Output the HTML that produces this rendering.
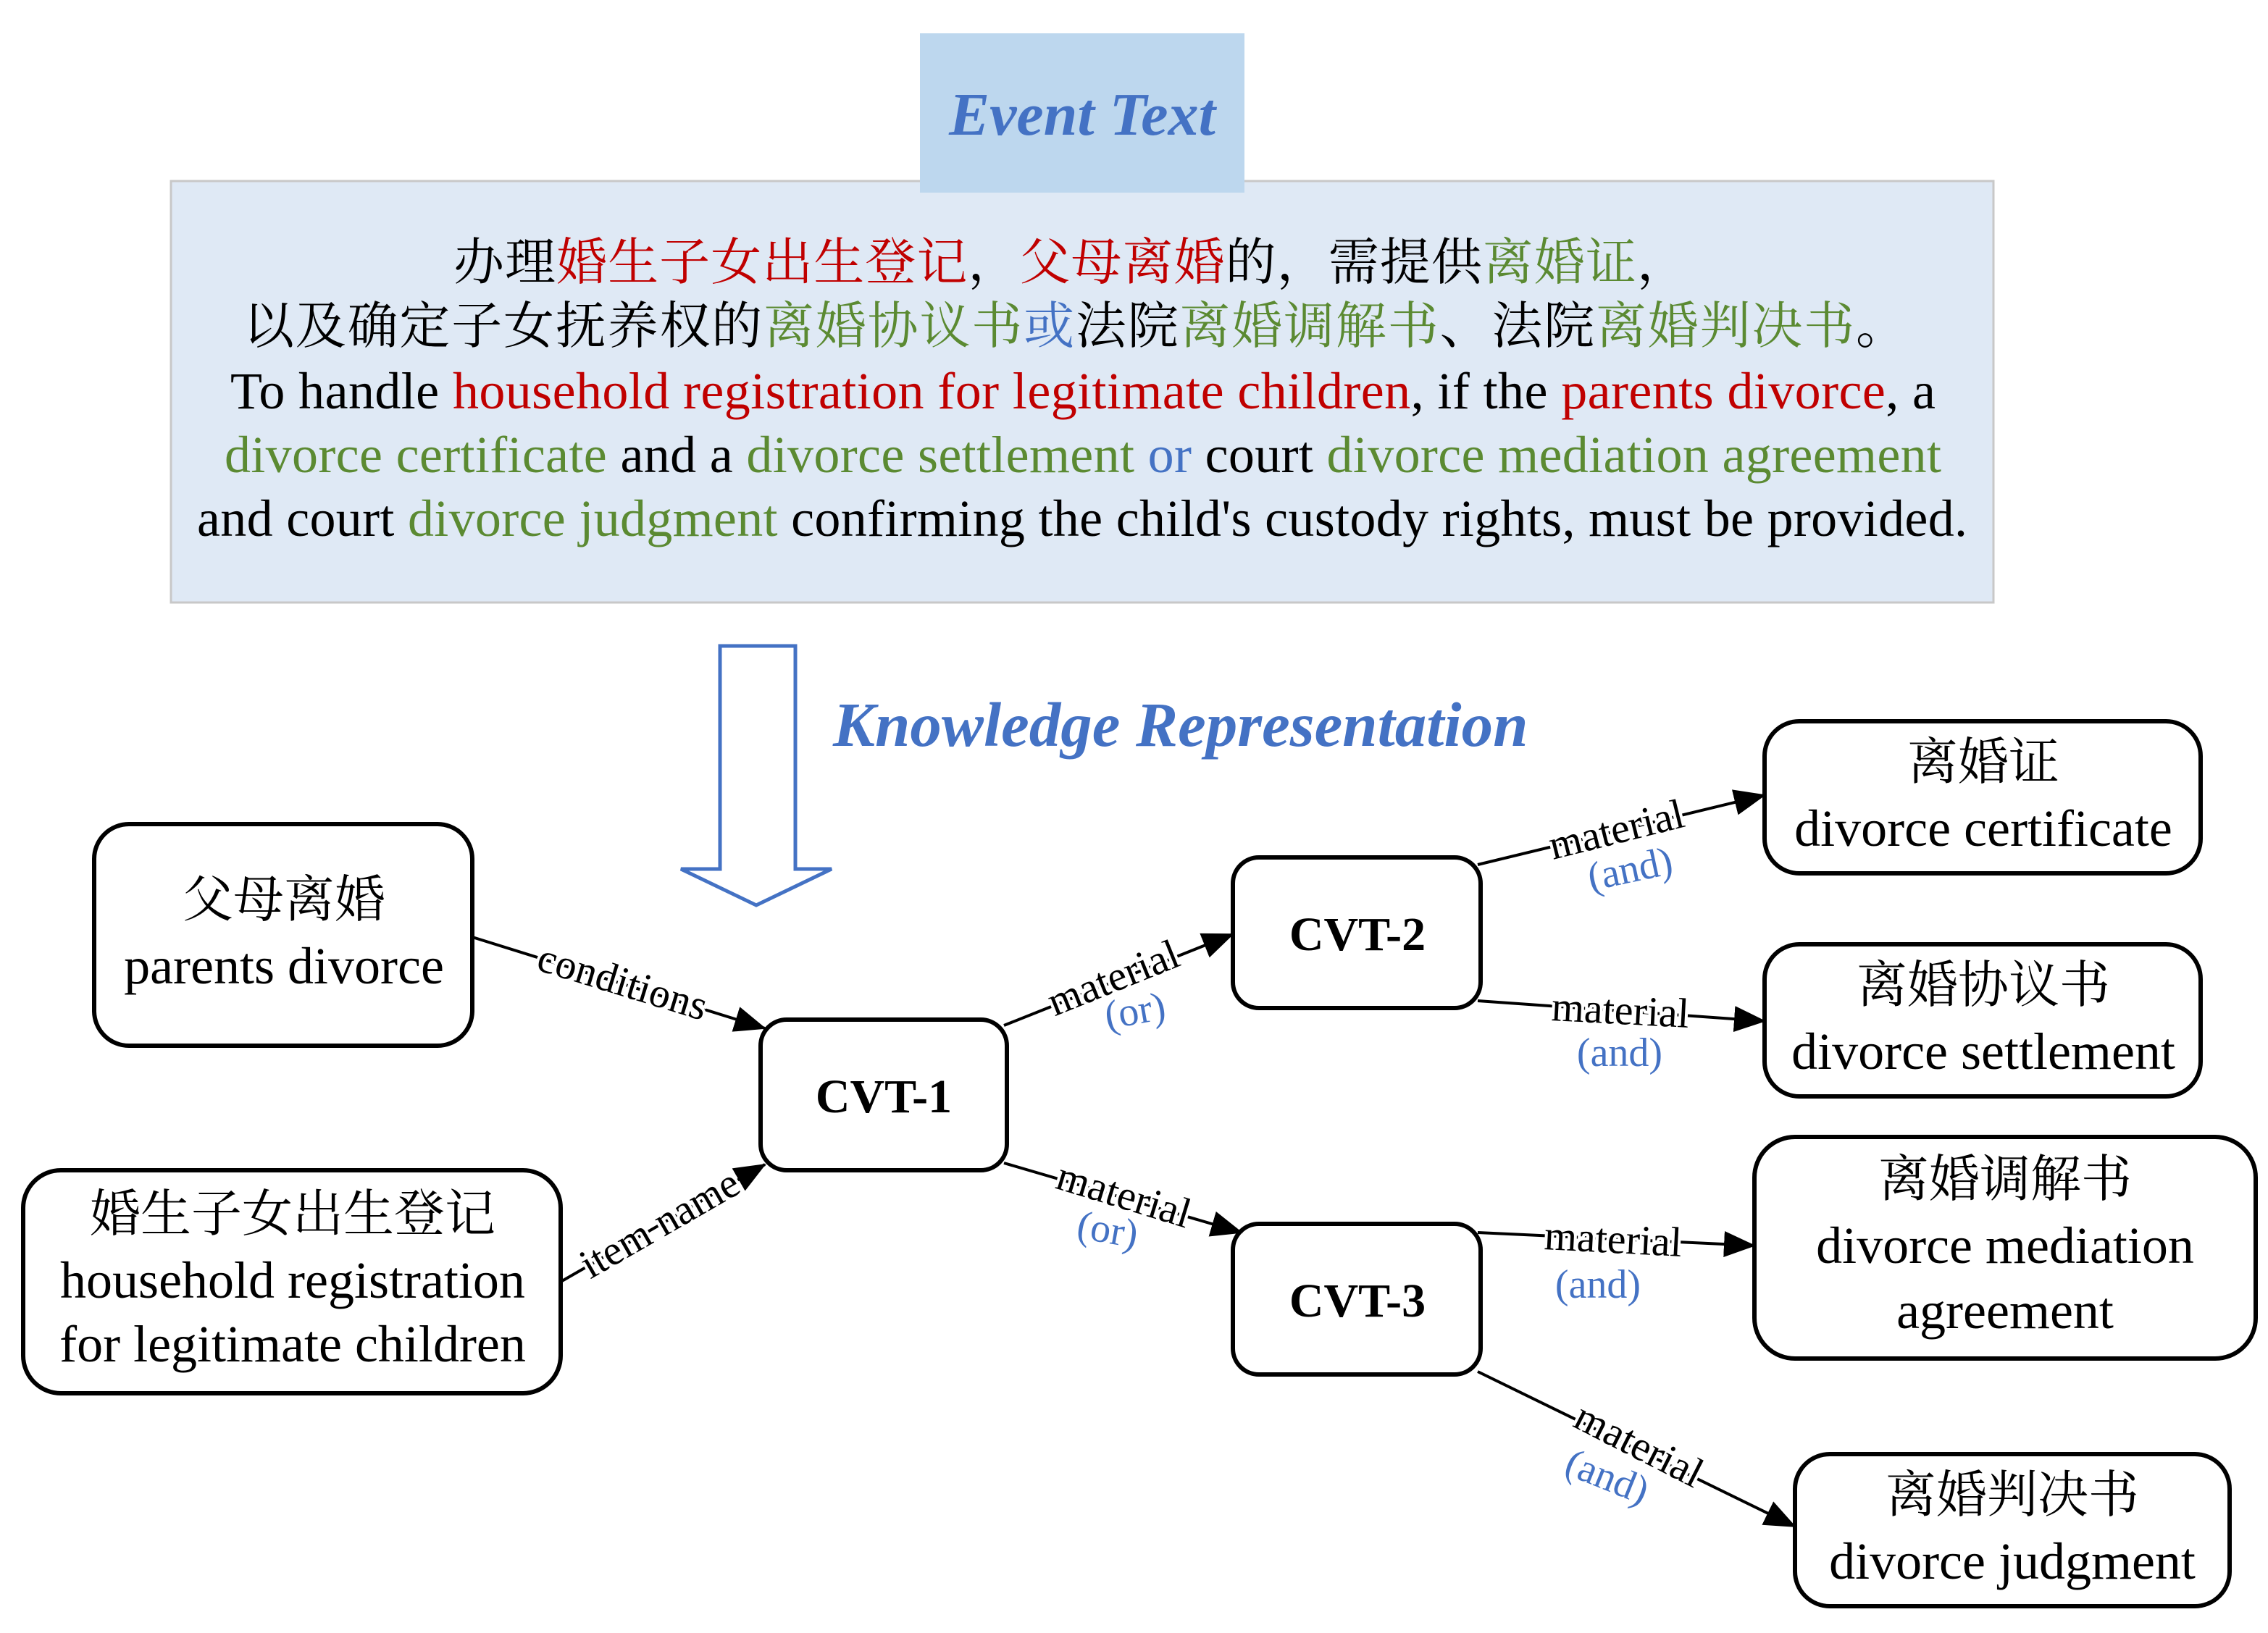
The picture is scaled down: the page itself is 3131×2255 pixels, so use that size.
<!DOCTYPE html>
<html><head><meta charset="utf-8"><style>
html,body{margin:0;padding:0;background:#fff;}
svg{display:block;}
.t{font-family:"Liberation Serif","Noto Serif CJK SC",serif;}
</style></head><body>
<svg width="3131" height="2255" viewBox="0 0 1565.5 1127.5" xmlns="http://www.w3.org/2000/svg" class="t">
<defs>
<marker id="ah2" markerWidth="22" markerHeight="18" refX="21" refY="9" orient="auto" markerUnits="userSpaceOnUse"><path d="M0,0 L22,9 L0,18 z" fill="#000"/></marker></defs>
<rect x="118" y="125" width="1258" height="291" fill="#dfe9f5" stroke="#c8c8c8" stroke-width="1.5"/>
<rect x="635" y="23" width="224" height="110" fill="#bdd7ee"/>
<text x="747" y="93" text-anchor="middle" font-size="42" font-style="italic" font-weight="bold" fill="#4472c4">Event Text</text>
<g font-size="36">
<text x="313" y="193" textLength="852" lengthAdjust="spacing" font-family='"Noto Serif CJK SC",serif' font-size="35">办理<tspan fill="#c00000">婚生子女出生登记</tspan>，<tspan fill="#c00000">父母离婚</tspan>的，需提供<tspan fill="#5b8a32">离婚证</tspan>，</text>
<text x="168" y="237" textLength="1148" lengthAdjust="spacing" font-family='"Noto Serif CJK SC",serif' font-size="35">以及确定子女抚养权的<tspan fill="#5b8a32">离婚协议书</tspan><tspan fill="#4472c4">或</tspan>法院<tspan fill="#5b8a32">离婚调解书</tspan>、法院<tspan fill="#5b8a32">离婚判决书</tspan>。</text>
<text x="159" y="282" textLength="1177" lengthAdjust="spacing">To handle <tspan fill="#c00000">household registration for legitimate children</tspan>, if the <tspan fill="#c00000">parents divorce</tspan>, a</text>
<text x="155" y="326" textLength="1185" lengthAdjust="spacing"><tspan fill="#5b8a32">divorce certificate</tspan> and a <tspan fill="#5b8a32">divorce settlement</tspan> <tspan fill="#4472c4">or</tspan> court <tspan fill="#5b8a32">divorce mediation agreement</tspan></text>
<text x="136" y="370" textLength="1222" lengthAdjust="spacing">and court <tspan fill="#5b8a32">divorce judgment</tspan> confirming the child's custody rights, must be provided.</text>
</g>
<path d="M497,446 L549,446 L549,600 L574,600 L522,625 L470,600 L497,600 Z" fill="#fff" stroke="#4472c4" stroke-width="2.5"/>
<text x="575" y="515" font-size="43.5" font-style="italic" font-weight="bold" fill="#4472c4">Knowledge Representation</text>
<g fill="#fff" stroke="#000" stroke-width="3">
<rect x="65" y="569" width="261" height="153" rx="24"/>
<rect x="16" y="808" width="371" height="154" rx="26"/>
<rect x="525" y="704" width="170" height="104" rx="18"/>
<rect x="851" y="592" width="171" height="104" rx="18"/>
<rect x="851" y="845" width="171" height="104" rx="18"/>
<rect x="1218" y="498" width="301" height="105" rx="24"/>
<rect x="1218" y="652" width="301" height="105" rx="24"/>
<rect x="1211" y="785" width="346" height="153" rx="28"/>
<rect x="1239" y="1004" width="300" height="105" rx="24"/>
</g>
<g font-size="36" text-anchor="middle">
<text x="196" y="633" font-family='"Noto Serif CJK SC",serif' font-size="35">父母离婚</text>
<text x="196" y="679">parents divorce</text>
<text x="202" y="850" font-family='"Noto Serif CJK SC",serif' font-size="35">婚生子女出生登记</text>
<text x="202" y="896">household registration</text>
<text x="202" y="940">for legitimate children</text>
<text x="1369" y="538" font-family='"Noto Serif CJK SC",serif' font-size="35">离婚证</text>
<text x="1369" y="584">divorce certificate</text>
<text x="1369" y="692" font-family='"Noto Serif CJK SC",serif' font-size="35">离婚协议书</text>
<text x="1369" y="738">divorce settlement</text>
<text x="1384" y="826" font-family='"Noto Serif CJK SC",serif' font-size="35">离婚调解书</text>
<text x="1384" y="872">divorce mediation</text>
<text x="1384" y="917">agreement</text>
<text x="1389" y="1044" font-family='"Noto Serif CJK SC",serif' font-size="35">离婚判决书</text>
<text x="1389" y="1090">divorce judgment</text>
</g>
<g font-size="33" font-weight="bold" text-anchor="middle">
<text x="610" y="768">CVT-1</text>
<text x="937" y="656">CVT-2</text>
<text x="937" y="909">CVT-3</text>
</g>
<g stroke="#000" stroke-width="2" fill="none" marker-end="url(#ah2)">
<line x1="326" y1="647" x2="528" y2="710"/>
<line x1="387" y1="885" x2="528" y2="804"/>
<line x1="693" y1="708" x2="851" y2="645"/>
<line x1="693" y1="803" x2="857" y2="851"/>
<line x1="1020" y1="597" x2="1218" y2="549"/>
<line x1="1020" y1="691" x2="1218" y2="705"/>
<line x1="1020" y1="851" x2="1211" y2="860"/>
<line x1="1020" y1="947" x2="1239" y2="1054"/>
</g>
<g font-size="29" text-anchor="middle" paint-order="stroke" stroke="#fff" stroke-width="4">
<text transform="translate(427,687) rotate(17)">conditions</text>
<text transform="translate(460,853) rotate(-30)">item name</text>
<text transform="translate(772,684) rotate(-22)">material</text>
<text transform="translate(773,834) rotate(17)">material</text>
<text transform="translate(1118,582) rotate(-14)">material</text>
<text transform="translate(1118,707) rotate(3)">material</text>
<text transform="translate(1113,865) rotate(3)">material</text>
<text transform="translate(1127,1006) rotate(27)">material</text>
</g>
<g font-size="28" text-anchor="middle" fill="#4472c4">
<text transform="translate(785,707) rotate(-10)">(or)</text>
<text transform="translate(763,858) rotate(10)">(or)</text>
<text transform="translate(1127,609) rotate(-12)">(and)</text>
<text x="1118" y="736">(and)</text>
<text x="1103" y="896">(and)</text>
<text transform="translate(1106,1028) rotate(22)">(and)</text>
</g>
</svg>
</body></html>
